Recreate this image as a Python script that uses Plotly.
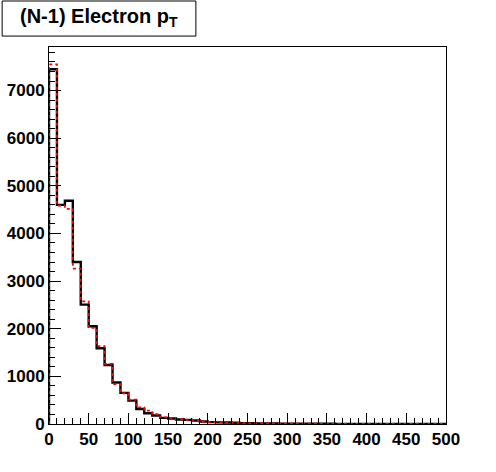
import plotly.graph_objects as go

bin_edges = list(range(0, 510, 10))
black_counts = [7447, 4600, 4686, 3400, 2505, 2051, 1590, 1240, 870, 654,
                490, 315, 225, 178, 129, 115, 94, 87, 73, 52,
                40, 35, 30, 25, 18, 15, 12, 10, 9, 8,
                6, 6, 5, 5, 4, 4, 3, 3, 3, 3,
                2, 2, 2, 2, 2, 2, 1, 1, 1, 1]
red_counts = [7551, 4585, 4518, 3260, 2575, 2016, 1632, 1262, 835, 645,
              510, 350, 280, 205, 140, 122, 100, 85, 70, 50,
              42, 36, 30, 24, 19, 15, 12, 10, 9, 8,
              6, 6, 5, 5, 4, 4, 3, 3, 3, 3,
              2, 2, 2, 2, 2, 2, 1, 1, 1, 1]
title_text = "(N-1) Electron p<sub>T</sub>"


def step_xy(edges, counts):
    xs = [edges[0]] + list(edges)
    ys = [0] + list(counts) + [counts[-1]]
    return xs, ys


fig = go.Figure()
bx, by = step_xy(bin_edges, black_counts)
rx, ry = step_xy(bin_edges, red_counts)
fig.add_trace(go.Scatter(x=bx, y=by, mode="lines", line=dict(color="black", width=2.4, shape="hv"),
                         showlegend=False, hoverinfo="skip"))
fig.add_trace(go.Scatter(x=rx, y=ry, mode="lines", line=dict(color="#ff0000", width=1.8, shape="hv", dash="3px,3px"),
                         showlegend=False, hoverinfo="skip"))

tickfont = dict(family="Liberation Sans", size=17, color="black", weight="bold")
fig.update_layout(
    width=496, height=472,
    margin=dict(l=49, r=50, t=47, b=48, autoexpand=False),
    paper_bgcolor="white", plot_bgcolor="white",
    xaxis=dict(range=[0, 500], dtick=50, tick0=0, ticks="inside", ticklen=11, tickwidth=1,
               tickcolor="black", showline=True, linecolor="black", linewidth=1, mirror=True,
               showgrid=False, zeroline=False, tickfont=tickfont, automargin=False,
               minor=dict(dtick=10, ticks="inside", ticklen=6, tickcolor="black", showgrid=False)),
    yaxis=dict(range=[0, 7914], dtick=1000, tick0=0, ticks="inside", ticklen=12, tickwidth=1,
               tickcolor="black", showline=True, linecolor="black", linewidth=1, mirror=True,
               showgrid=False, zeroline=False, tickfont=tickfont, automargin=False,
               minor=dict(dtick=200, ticks="inside", ticklen=6, tickcolor="black", showgrid=False)),
    shapes=[dict(type="rect", xref="paper", yref="paper", x0=-0.118, x1=0.370, y0=1.029, y1=1.122,
                 line=dict(color="black", width=1), fillcolor="white", layer="above")],
    annotations=[dict(text=title_text, xref="paper", yref="paper", x=0.126, y=1.077,
                      xanchor="center", yanchor="middle", showarrow=False,
                      font=dict(family="Liberation Sans", size=20, color="black", weight="bold"))],
)
fig.write_html("out.html", config={"displayModeBar": False},
               post_script="document.body.style.margin='0';")
